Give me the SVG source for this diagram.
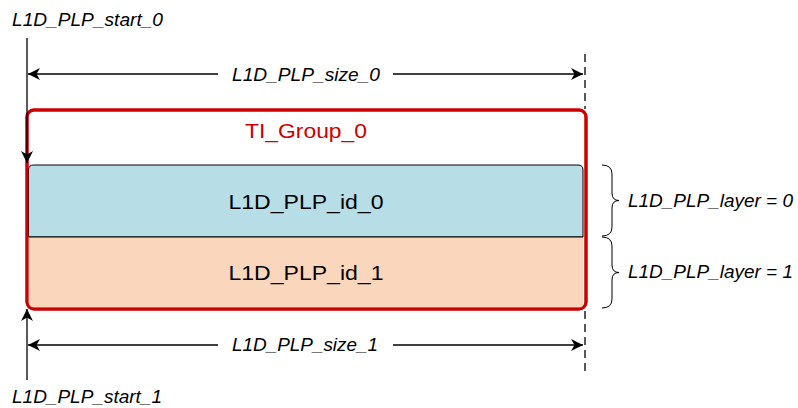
<svg xmlns="http://www.w3.org/2000/svg" width="798" height="408" viewBox="0 0 798 408">
  <defs>
    <marker id="arr" viewBox="0 0 13 13" refX="12" refY="6.5" markerWidth="13" markerHeight="13" markerUnits="userSpaceOnUse" orient="auto-start-reverse">
      <path d="M0,0.5 L12,6.5 L0,12.5 L3.5,6.5 Z" fill="#000"/>
    </marker>
    <style>
      .lbl { font-family: "Liberation Sans", Arial, sans-serif; font-style: italic; font-size: 17.5px; fill: #000; }
      .name { font-family: "Liberation Sans", Arial, sans-serif; font-size: 20px; fill: #000; }
      .ln { stroke: #000; stroke-width: 1.3; fill: none; }
      .dash { stroke: #000; stroke-width: 1.3; fill: none; stroke-dasharray: 8 5; }
      .brace { stroke: #000; stroke-width: 1; fill: none; }
    </style>
  </defs>
  <rect width="798" height="408" fill="#fff"/>

  <g id="tigroup">
    <rect x="27" y="110" width="559" height="199" rx="7" fill="#fff" stroke="#cc0000" stroke-width="3"/>
    <text x="306" y="138" text-anchor="middle" class="name" style="fill:#cc0000" textLength="122" lengthAdjust="spacingAndGlyphs">TI_Group_0</text>
  </g>

  <g id="plp0">
    <path d="M28.5,237 L28.5,170 Q28.5,165 33.5,165 L578,165 Q583,165 583,170 L583,237 Z" fill="#b7dde7" stroke="#000" stroke-width="1"/>
    <text x="306" y="209" text-anchor="middle" class="name" textLength="155" lengthAdjust="spacingAndGlyphs">L1D_PLP_id_0</text>
  </g>

  <g id="plp1">
    <path d="M28.5,237 L583,237 L583,307.5 L28.5,307.5 Z" fill="#fad7bc" stroke="none"/>
    <line x1="28.5" y1="237" x2="583" y2="237" stroke="#000" stroke-width="1"/>
    <text x="306" y="280" text-anchor="middle" class="name" textLength="155" lengthAdjust="spacingAndGlyphs">L1D_PLP_id_1</text>
  </g>
  <rect x="27" y="110" width="559" height="199" rx="7" fill="none" stroke="#cc0000" stroke-width="3"/>

  <g id="layer0">
    <path class="brace" d="M602,165 Q612,165 612,174 L612,193 Q612,200.5 619,200.5 Q612,200.5 612,208 L612,227 Q612,236 602,236"/>
    <text x="628" y="207" class="lbl" textLength="165" lengthAdjust="spacingAndGlyphs">L1D_PLP_layer = 0</text>
  </g>
  <g id="layer1">
    <path class="brace" d="M602,237 Q612,237 612,246 L612,265 Q612,272.5 619,272.5 Q612,272.5 612,280 L612,299 Q612,308 602,308"/>
    <text x="628" y="278" class="lbl" textLength="165" lengthAdjust="spacingAndGlyphs">L1D_PLP_layer = 1</text>
  </g>

  <g id="start0">
    <text x="12" y="26" class="lbl" textLength="151" lengthAdjust="spacingAndGlyphs">L1D_PLP_start_0</text>
  </g>
  <g id="start1">
    <text x="12" y="403" class="lbl" textLength="150" lengthAdjust="spacingAndGlyphs">L1D_PLP_start_1</text>
  </g>
  <g id="size0">
    <text x="306" y="81" text-anchor="middle" class="lbl" textLength="148" lengthAdjust="spacingAndGlyphs">L1D_PLP_size_0</text>
  </g>
  <g id="size1">
    <text x="305" y="351" text-anchor="middle" class="lbl" textLength="146" lengthAdjust="spacingAndGlyphs">L1D_PLP_size_1</text>
  </g>

  <g id="connectors">
    <line class="ln" x1="27" y1="38" x2="27" y2="163" marker-end="url(#arr)"/>
    <line class="ln" x1="27" y1="380" x2="27" y2="309" marker-end="url(#arr)"/>
    <line class="ln" x1="218" y1="74" x2="28" y2="74" marker-end="url(#arr)"/>
    <line class="ln" x1="393" y1="74" x2="583" y2="74" marker-end="url(#arr)"/>
    <line class="ln" x1="218" y1="345" x2="28" y2="345" marker-end="url(#arr)"/>
    <line class="ln" x1="393" y1="345" x2="583" y2="345" marker-end="url(#arr)"/>
    <line class="dash" x1="585" y1="54" x2="585" y2="109"/>
    <line class="dash" x1="585" y1="311" x2="585" y2="375"/>
  </g>
</svg>
